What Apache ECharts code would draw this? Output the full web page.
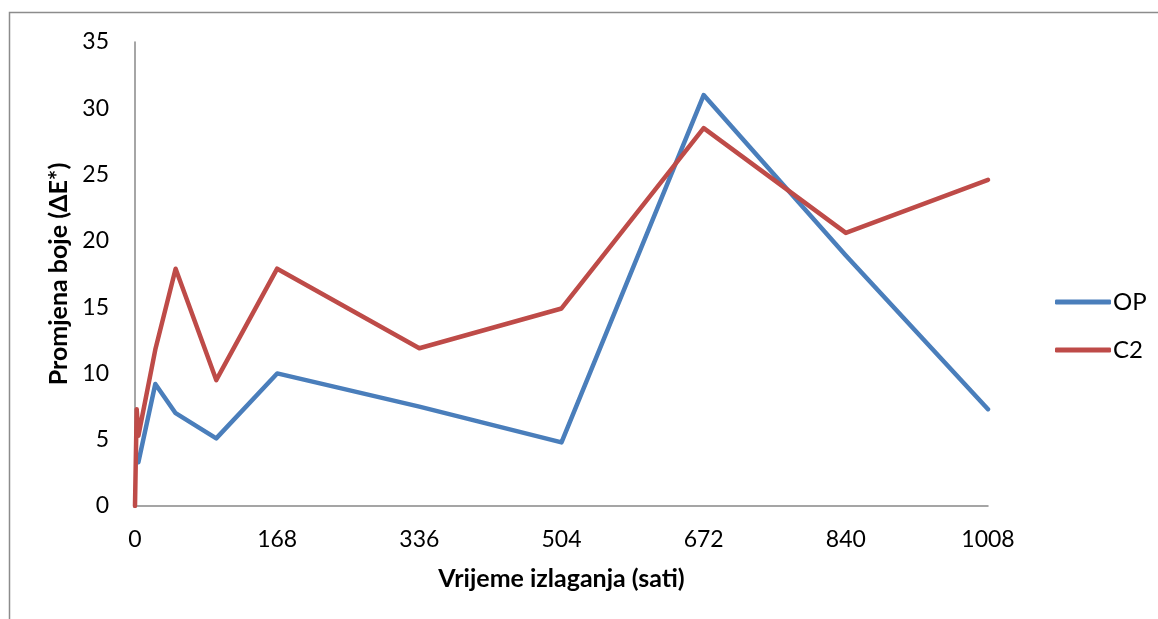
<!DOCTYPE html>
<html><head><meta charset="utf-8">
<script src="https://cdn.jsdelivr.net/npm/echarts@6/dist/echarts.min.js"></script>
<style>html,body{margin:0;padding:0;background:#fff}#c{width:1158px;height:619px}</style>
</head><body><div id="c"></div>
<script>
const hoursOP = [4, 24, 48, 96, 168, 336, 504, 672, 840, 1008];
const valuesOP = [3.3, 9.2, 7.0, 5.1, 10.0, 7.5, 4.8, 31.0, 18.9, 7.3];
const hoursC2 = [0, 2, 4, 24, 48, 96, 168, 336, 504, 672, 840, 1008];
const valuesC2 = [0, 7.3, 5.3, 11.8, 17.9, 9.5, 17.9, 11.9, 14.9, 28.5, 20.6, 24.6];
const xTicks = [0, 168, 336, 504, 672, 840, 1008];
const yTicks = [0, 5, 10, 15, 20, 25, 30, 35];
const seriesNames = ['OP', 'C2'];

const font = 'Lato, "Open Sans", sans-serif';
const chart = echarts.init(document.getElementById('c'));
chart.setOption({
  animation: false,
  graphic: [{type: 'rect', shape: {x: 9.5, y: 12.5, width: 1200, height: 700}, style: {fill: 'none', stroke: '#8c8c8c', lineWidth: 1.5}}],
  grid: {left: 135, right: 170, top: 42, bottom: 113},
  legend: {
    orient: 'vertical', left: 1050, top: 285, itemGap: 24,
    icon: 'roundRect', itemWidth: 56, itemHeight: 5,
    textStyle: {fontFamily: font, fontSize: 24, color: '#000', padding: [0, 0, 0, -3]},
    data: seriesNames
  },
  xAxis: {
    type: 'value', min: 0, max: 1008, interval: 168,
    name: 'Vrijeme izlaganja (sati)', nameLocation: 'middle', nameGap: 60,
    nameTextStyle: {fontFamily: font, fontSize: 25, fontWeight: 'bold', color: '#000'},
    axisLine: {show: true, lineStyle: {color: '#888', width: 1.5}},
    axisTick: {show: false}, splitLine: {show: false},
    axisLabel: {fontFamily: font, fontSize: 23, color: '#000', margin: 22,
      formatter: v => xTicks.includes(v) ? String(v) : ''}
  },
  yAxis: {
    type: 'value', min: 0, max: 35, interval: 5,
    name: 'Promjena boje (ΔE*)', nameLocation: 'middle', nameGap: 61,
    nameTextStyle: {fontFamily: font, fontSize: 25, fontWeight: 'bold', color: '#000'},
    axisLine: {show: true, lineStyle: {color: '#888', width: 1.5}},
    axisTick: {show: false}, splitLine: {show: false},
    axisLabel: {fontFamily: font, fontSize: 23, color: '#000', margin: 26,
      formatter: v => yTicks.includes(v) ? String(v) : ''}
  },
  series: [
    {name: seriesNames[0], type: 'line', symbol: 'none', color: '#4A7EBB',
     lineStyle: {width: 4.5, color: '#4A7EBB', cap: 'round', join: 'round'},
     data: hoursOP.map((h, i) => [h, valuesOP[i]])},
    {name: seriesNames[1], type: 'line', symbol: 'none', color: '#BE4B48',
     lineStyle: {width: 4.5, color: '#BE4B48', cap: 'round', join: 'round'},
     data: hoursC2.map((h, i) => [h, valuesC2[i]])}
  ]
});
</script></body></html>
